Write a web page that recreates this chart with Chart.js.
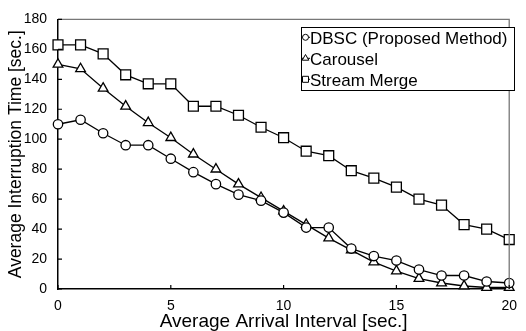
<!DOCTYPE html>
<html>
<head>
<meta charset="utf-8">
<script src="https://cdn.jsdelivr.net/npm/chart.js@4/dist/chart.umd.min.js"></script>
<style>
html,body{margin:0;padding:0;background:#fff;}
#wrap{width:526px;height:331px;}
</style>
</head>
<body>
<div id="wrap"><canvas id="c" width="526" height="331"></canvas></div>
<script>
const intervals = [0,1,2,3,4,5,6,7,8,9,10,11,12,13,14,15,16,17,18,19,20];
const dbsc     = [110,113,104,96,96,87,78,70,63,59,51,41,41,27,22,19,13,9,9,5,4];
const carousel = [150,147,134,122,111,101,90,80,70,61,52,43,34,26,18,12,7,4,2,1,1];
const stream   = [163,163,157,143,137,137,122,122,116,108,101,92,89,79,74,68,60,56,43,40,33];
const seriesNames = ['DBSC (Proposed Method)','Carousel','Stream Merge'];
const xTicks = [0,5,10,15,20];
const yTicks = [0,20,40,60,80,100,120,140,160,180];

const FONT = "'Liberation Sans', Arial, sans-serif";

function pts(vals){ return intervals.map((x,i)=>({x:x,y:vals[i]})); }

function ds(label, vals, style, r){
  return {label:label, data:pts(vals), borderColor:'#000', borderWidth:1.3,
    pointStyle:style, pointRadius:r, pointHoverRadius:r, pointBackgroundColor:'#fff',
    pointBorderColor:'#000', pointBorderWidth:1.3, tension:0, clip:false, fill:false};
}

function drawMarker(ctx, style, x, y, r){
  ctx.beginPath();
  if(style==='circle'){ ctx.arc(x,y,r,0,Math.PI*2); }
  else if(style==='triangle'){
    ctx.moveTo(x, y-r); ctx.lineTo(x+r*0.866, y+r*0.5); ctx.lineTo(x-r*0.866, y+r*0.5); ctx.closePath();
  } else { ctx.rect(x-r,y-r,2*r,2*r); }
  ctx.fillStyle='#fff'; ctx.fill(); ctx.stroke();
}

const decor = {
  id:'decor',
  afterDatasetsDraw(chart){
    const ctx = chart.ctx, a = chart.chartArea;
    const xs = chart.scales.x, ys = chart.scales.y;
    ctx.save();
    // frame top/right
    ctx.strokeStyle='#777'; ctx.lineWidth=1.3;
    ctx.beginPath(); ctx.moveTo(a.left,a.top); ctx.lineTo(a.right,a.top); ctx.lineTo(a.right,a.bottom); ctx.stroke();
    // inward ticks
    ctx.strokeStyle='#000'; ctx.lineWidth=1.2;
    ctx.beginPath();
    xTicks.forEach(v=>{const px=xs.getPixelForValue(v); ctx.moveTo(px,a.bottom); ctx.lineTo(px,a.bottom-4);});
    yTicks.forEach(v=>{const py=ys.getPixelForValue(v); ctx.moveTo(a.left,py); ctx.lineTo(a.left+4,py);});
    ctx.stroke();
    // legend
    const bx=301, by=27, bw=213, bh=63;
    ctx.fillStyle='#fff'; ctx.fillRect(bx,by,bw,bh);
    ctx.strokeStyle='#000'; ctx.lineWidth=1; ctx.strokeRect(bx+0.5,by+0.5,bw,bh);
    const styles=['circle','triangle','rect'];
    const base=[43.5,64.5,85.5];
    ctx.font = "17px "+FONT; ctx.textBaseline='alphabetic'; ctx.textAlign='left';
    seriesNames.forEach((n,i)=>{
      const y=base[i]-6.2;
      ctx.strokeStyle='#000'; ctx.lineWidth=1;
      ctx.beginPath(); ctx.moveTo(302,y); ctx.lineTo(310,y); ctx.stroke();
      drawMarker(ctx, styles[i], 305.5, y, styles[i]==='triangle'?3.8:3);
      ctx.fillStyle='#000'; ctx.fillText(n, 310, base[i]);
    });
    ctx.restore();
  }
};

new Chart(document.getElementById('c'), {
  type:'line',
  data:{datasets:[
    ds(seriesNames[0], dbsc, 'circle', 4.7),
    ds(seriesNames[1], carousel, 'triangle', 5.6),
    ds(seriesNames[2], stream, 'rect', 7)
  ]},
  options:{
    responsive:false, devicePixelRatio:1, animation:false,
    layout:{padding:{left:0,top:18,right:7,bottom:0}},
    plugins:{legend:{display:false}, tooltip:{enabled:false}},
    scales:{
      x:{type:'linear', min:0, max:20,
        afterBuildTicks(s){ s.ticks = xTicks.map(v=>({value:v})); },
        afterFit(s){ s.height = 42; },
        grid:{display:false, drawTicks:false},
        border:{display:true, color:'#000', width:1.5},
        ticks:{color:'#000', font:{family:FONT, size:14}, padding:9, maxRotation:0, autoSkip:false},
        title:{display:true, text:'Average Arrival Interval [sec.]', color:'#000',
          font:{family:FONT, size:19, lineHeight:1}, padding:{top:0,bottom:0}}
      },
      y:{type:'linear', min:0, max:180,
        afterBuildTicks(s){ s.ticks = yTicks.map(v=>({value:v})); },
        afterFit(s){ s.width = 58; },
        grid:{display:false, drawTicks:false},
        border:{display:true, color:'#000', width:1.5},
        ticks:{color:'#000', font:{family:FONT, size:14}, padding:11, autoSkip:false},
        title:{display:true, text:'Average Interruption Time [sec.]', color:'#000',
          font:{family:FONT, size:17.5, lineHeight:1}, padding:{top:7,bottom:0}}
      }
    }
  },
  plugins:[decor]
});
</script>
</body>
</html>
